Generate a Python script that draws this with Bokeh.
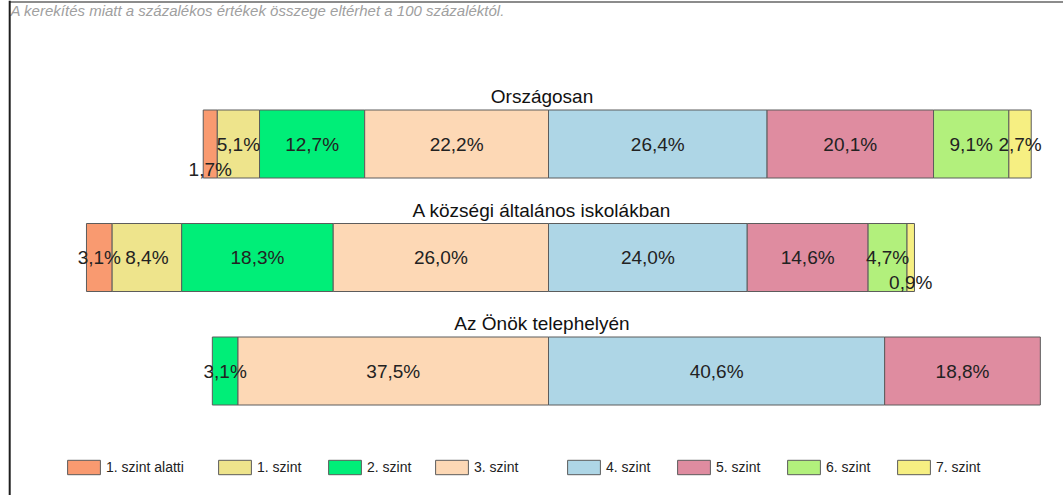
from bokeh.plotting import figure
from bokeh.models import Range1d, ColumnDataSource, Legend, LegendItem
from bokeh.embed import file_html
from bokeh.resources import INLINE
from bokeh.core.properties import value

# ---------------- data ----------------
rows = ["Országosan", "A községi általános iskolákban", "Az Önök telephelyén"]
categories = ["1. szint alatti", "1. szint", "2. szint", "3. szint",
              "4. szint", "5. szint", "6. szint", "7. szint"]
orszagosan = [1.7, 5.1, 12.7, 22.2, 26.4, 20.1, 9.1, 2.7]
kozsegi = [3.1, 8.4, 18.3, 26.0, 24.0, 14.6, 4.7, 0.9]
telephely = [0.0, 0.0, 3.1, 37.5, 40.6, 18.8, 0.0, 0.0]
series = [orszagosan, kozsegi, telephely]
colors = ["#F99A70", "#EEE48C", "#00EE78", "#FDD8B5",
          "#AED6E6", "#DF8CA0", "#B2F07C", "#F6EF82"]
note = "A kerekítés miatt a  százalékos értékek összege eltérhet a 100 százaléktól."

# ---------------- layout constants ----------------
W, H = 1063, 495
CENTER_PX = 548.0      # pixel of the 3./4. szint boundary
SCALE = 8.28           # pixels per percent
ROW_Y = [143.5, 257.0, 370.5]
BAR_H = 68
FONT = "Liberation Sans"
LEGEND_X = [67, 218, 328, 435, 567, 677, 787, 897]


def px2x(px):
    return (px - CENTER_PX) / SCALE


p = figure(width=W, height=H, output_backend="svg", toolbar_location=None,
           x_range=Range1d(px2x(0), px2x(W)), y_range=Range1d(H, 0),
           min_border=0, background_fill_color="white", border_fill_color="white")
p.xaxis.visible = False
p.yaxis.visible = False
p.grid.visible = False
p.outline_line_color = None

# ---------------- bars ----------------
lefts_per_row = []
for vals in series:
    acc = -sum(vals[:4])
    lefts = []
    for v in vals:
        lefts.append(acc)
        acc += v
    lefts_per_row.append(lefts)

renderers = []
for ci, cat in enumerate(categories):
    ys, ls, rs = [], [], []
    for ri, vals in enumerate(series):
        v = vals[ci]
        if v > 0:
            ys.append(ROW_Y[ri])
            ls.append(lefts_per_row[ri][ci])
            rs.append(lefts_per_row[ri][ci] + v)
    src = ColumnDataSource(dict(y=ys, left=ls, right=rs))
    r = p.hbar(y="y", left="left", right="right", height=BAR_H, source=src,
               fill_color=colors[ci], line_color="#5c5c5c", line_width=1)
    renderers.append(r)

# ---------------- value labels ----------------
lx, ly, lt = [], [], []
for ri, vals in enumerate(series):
    for ci, v in enumerate(vals):
        if v <= 0:
            continue
        mid = lefts_per_row[ri][ci] + v / 2
        lx.append(mid)
        ly.append(ROW_Y[ri] + (25 if v < 2 else 0))
        lt.append(("%.1f" % v).replace(".", ",") + "%")
p.text(x=lx, y=ly, text=lt, text_align="center", text_baseline="middle",
       text_font=value(FONT), text_font_size="19px", text_color="#222222")

# ---------------- row titles ----------------
p.text(x=[px2x(541.5)] * 3, y=[y - BAR_H / 2 - 13.5 for y in ROW_Y], text=rows,
       text_align="center", text_baseline="middle",
       text_font=value(FONT), text_font_size="19px", text_color="#111111")

# ---------------- note and frame ----------------
p.text(x=[px2x(10)], y=[10], text=[note], text_align="left", text_baseline="middle",
       text_font=value(FONT), text_font_size="15px", text_font_style="italic",
       text_color="#a0a0a0")
p.segment(x0=[px2x(9)], y0=[1.5], x1=[px2x(W)], y1=[1.5], line_color="#8c8c8c", line_width=2)
p.segment(x0=[px2x(9.2)], y0=[0], x1=[px2x(9.2)], y1=[H], line_color="#1e1e1e", line_width=2)

# ---------------- legends (one per entry) ----------------
for i, cat in enumerate(categories):
    lg = Legend(items=[LegendItem(label=cat, renderers=[renderers[i]])],
                orientation="horizontal", location=(LEGEND_X[i] - 4, 19),
                padding=0, margin=0, spacing=0, glyph_width=41, glyph_height=18,
                label_standoff=2, label_text_font=FONT, label_text_font_size="14px",
                label_text_color="#222222", border_line_color=None,
                background_fill_alpha=0)
    p.add_layout(lg, "center")

open("out.html", "w").write(file_html(p, INLINE))
